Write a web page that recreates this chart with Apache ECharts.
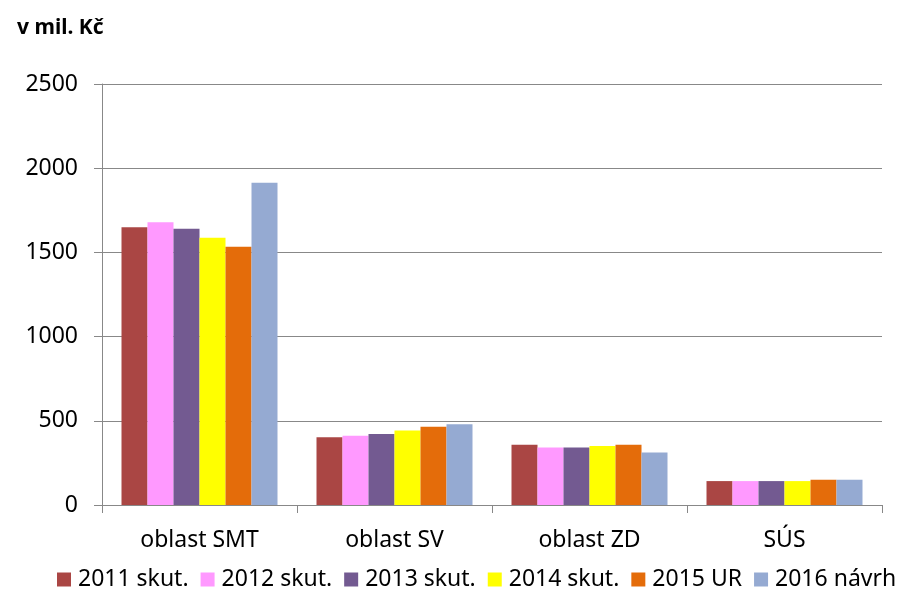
<!DOCTYPE html>
<html><head><meta charset="utf-8">
<script src="https://cdn.jsdelivr.net/npm/echarts@6/dist/echarts.min.js"></script>
<style>html,body{margin:0;padding:0;background:#fff}#c{width:907px;height:592px}</style>
</head><body><div id="c"></div>
<script>
const categories = ["oblast SMT", "oblast SV", "oblast ZD", "SÚS"];
const seriesNames = ["2011 skut.", "2012 skut.", "2013 skut.", "2014 skut.", "2015 UR", "2016 návrh"];
const v2011 = [1649, 403, 358, 142];
const v2012 = [1679, 411, 342, 142];
const v2013 = [1641, 421, 342, 142];
const v2014 = [1587, 443, 350, 142];
const v2015 = [1534, 464, 358, 150];
const v2016 = [1914, 480, 312, 150];
const colors = ["#AA4644", "#FF99FF", "#735A91", "#FFFF00", "#E46C0A", "#95AAD2"];
const yTicks = [0, 500, 1000, 1500, 2000, 2500];

const values = [v2011, v2012, v2013, v2014, v2015, v2016];
const font = "'Noto Sans', 'Open Sans', sans-serif";
const chart = echarts.init(document.getElementById('c'), null, {renderer: 'canvas'});
chart.setOption({
  animation: false,
  color: colors,
  title: {
    text: "v mil. Kč", left: 12, top: 13,
    textStyle: {fontFamily: font, fontSize: 21, fontWeight: 'bold', color: '#000'}
  },
  grid: {left: 102, right: 25, top: 84, bottom: 87, containLabel: false},
  legend: {
    top: 563, left: 52,
    itemWidth: 14, itemHeight: 14, itemGap: 12,
    icon: 'rect',
    textStyle: {fontFamily: font, fontSize: 23, color: '#000', padding: [0, 0, 0, 2]},
    data: seriesNames
  },
  xAxis: {
    type: 'category', data: categories,
    axisLine: {lineStyle: {color: '#888', width: 1}},
    axisTick: {show: true, length: 8, interval: 0, lineStyle: {color: '#888'}},
    axisLabel: {fontFamily: font, fontSize: 23, color: '#000', margin: 24}
  },
  yAxis: {
    type: 'value', min: yTicks[0], max: yTicks[yTicks.length - 1], interval: 500,
    axisLine: {show: true, lineStyle: {color: '#888', width: 1}},
    axisTick: {show: true, length: 8, lineStyle: {color: '#888'}},
    splitLine: {lineStyle: {color: '#888', width: 1}},
    axisLabel: {fontFamily: font, fontSize: 23, color: '#000', margin: 24,
      formatter: v => String(v)}
  },
  series: seriesNames.map((n, i) => ({
    name: n, type: 'bar', data: values[i],
    barGap: '0%', barCategoryGap: '20%',
    itemStyle: {color: colors[i]}
  }))
});
</script></body></html>
